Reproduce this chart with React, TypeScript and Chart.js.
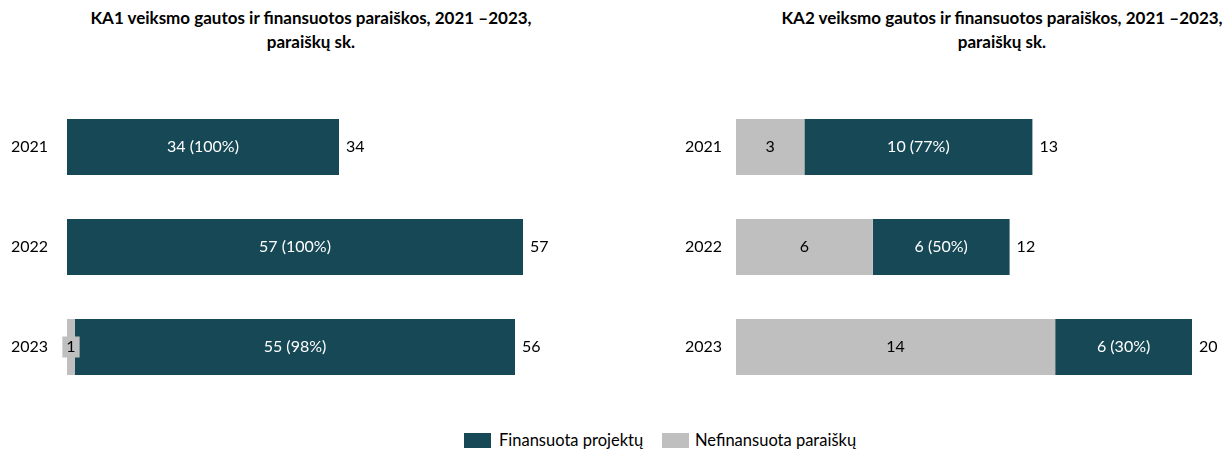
import React, { useEffect, useRef } from "react";
import { Chart, registerables } from "chart.js";

Chart.register(...registerables);

const years = ["2021", "2022", "2023"];
const ka1Funded = [34, 57, 55];
const ka1Unfunded = [0, 0, 1];
const ka2Funded = [10, 6, 6];
const ka2Unfunded = [3, 6, 14];

const titleKA1 = ["KA1 veiksmo gautos ir finansuotos paraiškos, 2021 \u20132023,", "paraiškų sk."];
const titleKA2 = ["KA2 veiksmo gautos ir finansuotos paraiškos, 2021 \u20132023,", "paraiškų sk."];
const legendFunded = "Finansuota projektų";
const legendUnfunded = "Nefinansuota paraiškų";

const DARK = "#164855";
const GREY = "#BFBFBF";
const FONT = "Lato, 'Open Sans', sans-serif";

const labelPlugin = {
  id: "barLabels",
  afterDatasetsDraw(chart: any) {
    const ctx = chart.ctx;
    ctx.save();
    ctx.font = `16px ${FONT}`;
    ctx.textBaseline = "middle";
    const unfunded = chart.data.datasets[0].data as number[];
    const funded = chart.data.datasets[1].data as number[];
    const m0 = chart.getDatasetMeta(0);
    const m1 = chart.getDatasetMeta(1);
    funded.forEach((f, i) => {
      const u = unfunded[i];
      const total = f + u;
      if (u > 0) {
        const el = m0.data[i];
        const cx = (el.x + el.base) / 2;
        const txt = String(u);
        const w = ctx.measureText(txt).width;
        ctx.fillStyle = GREY;
        ctx.fillRect(cx - w / 2 - 4, el.y - 10.5, w + 8, 21);
        ctx.fillStyle = "#000";
        ctx.textAlign = "center";
        ctx.fillText(txt, cx, el.y);
      }
      if (f > 0) {
        const el = m1.data[i];
        const cx = (el.x + el.base) / 2;
        const pct = Math.round((f / total) * 100);
        ctx.fillStyle = "#fff";
        ctx.textAlign = "center";
        ctx.fillText(`${f} (${pct}%)`, cx, el.y);
      }
      const endEl = m1.data[i];
      ctx.fillStyle = "#000";
      ctx.textAlign = "left";
      ctx.fillText(String(total), endEl.x + 7, endEl.y);
    });
    ctx.restore();
  },
};

function BarChart({ funded, unfunded, padRight, axisWidth, tickPad }: any) {
  const ref = useRef<HTMLCanvasElement>(null);
  useEffect(() => {
    const max = Math.max(...funded.map((f: number, i: number) => f + unfunded[i]));
    const chart = new Chart(ref.current!, {
      type: "bar",
      data: {
        labels: years,
        datasets: [
          { label: legendUnfunded, data: unfunded, backgroundColor: GREY, barPercentage: 0.56, categoryPercentage: 1 },
          { label: legendFunded, data: funded, backgroundColor: DARK, barPercentage: 0.56, categoryPercentage: 1 },
        ],
      },
      options: {
        indexAxis: "y",
        animation: false,
        responsive: true,
        maintainAspectRatio: false,
        layout: { padding: { top: 17, bottom: 23, left: 0, right: padRight } },
        plugins: { legend: { display: false }, tooltip: { enabled: false }, title: { display: false } },
        scales: {
          x: { stacked: true, display: false, min: 0, max },
          y: {
            stacked: true,
            grid: { display: false },
            border: { display: false },
            ticks: { color: "#000", font: { family: FONT, size: 16 }, padding: tickPad },
            afterFit: (axis: any) => {
              axis.width = axisWidth;
              axis.paddingTop = 0;
              axis.paddingBottom = 0;
            },
          },
        },
      },
      plugins: [labelPlugin],
    });
    return () => chart.destroy();
  }, []);
  return <canvas ref={ref} />;
}

export default function App() {
  const titleStyle: React.CSSProperties = {
    position: "absolute",
    top: 6,
    width: 600,
    textAlign: "center",
    fontFamily: FONT,
    fontWeight: 700,
    fontSize: 17,
    lineHeight: "24px",
    color: "#000",
    whiteSpace: "nowrap",
  };
  const sq = (c: string): React.CSSProperties => ({ display: "inline-block", width: 27, height: 15, background: c, marginRight: 7 });
  return (
    <div style={{ position: "absolute", left: 0, top: 0, width: 1226, height: 454, background: "#fff", overflow: "hidden" }}>
      <div style={{ ...titleStyle, left: 311 - 300 }}>
        {titleKA1[0]}
        <br />
        {titleKA1[1]}
      </div>
      <div style={{ ...titleStyle, left: 1002 - 300 }}>
        {titleKA2[0]}
        <br />
        {titleKA2[1]}
      </div>
      <div style={{ position: "absolute", left: 0, top: 80, width: 613, height: 340 }}>
        <BarChart funded={ka1Funded} unfunded={ka1Unfunded} padRight={90} axisWidth={67} tickPad={11} />
      </div>
      <div style={{ position: "absolute", left: 613, top: 80, width: 613, height: 340 }}>
        <BarChart funded={ka2Funded} unfunded={ka2Unfunded} padRight={34} axisWidth={123} tickPad={6} />
      </div>
      <div
        style={{
          position: "absolute",
          left: 464,
          top: 431,
          display: "flex",
          alignItems: "center",
          fontFamily: FONT,
          fontSize: 16.5,
          color: "#000",
          height: 18,
          whiteSpace: "nowrap",
        }}
      >
        <span style={sq(DARK)} />
        <span style={{ position: "absolute", left: 35 }}>{legendFunded}</span>
        <span style={{ ...sq(GREY), position: "absolute", left: 198, top: 1.5 }} />
        <span style={{ position: "absolute", left: 231 }}>{legendUnfunded}</span>
      </div>
    </div>
  );
}
